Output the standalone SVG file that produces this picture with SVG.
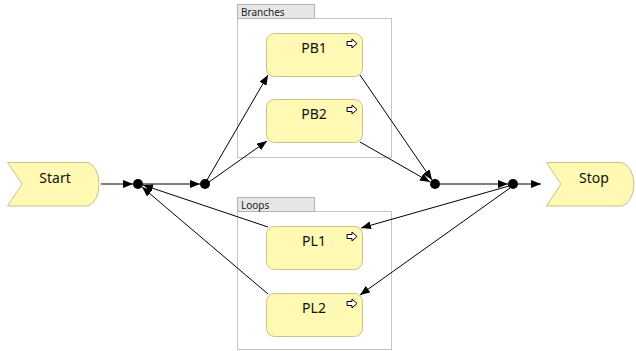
<svg xmlns="http://www.w3.org/2000/svg" width="636" height="351" viewBox="0 0 636 351">
<defs>
<style>
.node{fill:#fff9b3;stroke:#c9c28a;stroke-width:1}
.lbl{font-family:"Noto Sans","Open Sans",sans-serif;font-size:14px;fill:#111;text-anchor:middle}
.tab{fill:#e6e6e6;stroke:#b4b4b4;stroke-width:1}
.tablbl{font-family:"Noto Sans","Open Sans",sans-serif;font-size:10px;fill:#222}
.box{fill:none;stroke:#c4c4c4;stroke-width:1}
.conn{stroke:#000;stroke-width:1;fill:none;marker-end:url(#ah)}
.dot{fill:#000}
.icon{fill:#fff;stroke:#000;stroke-width:1}
</style>
<marker id="ah" viewBox="0 0 10 8" refX="10" refY="4" markerWidth="10" markerHeight="8" markerUnits="userSpaceOnUse" orient="auto">
<path d="M0,0 L10,4 L0,8 Z" fill="#000"/>
</marker>
<path id="ico" d="M0,-2 H5 V-4.5 L10,0 L5,4.5 V2 H0 Z"/>
</defs>

<g id="grp-branches">
<rect class="box" x="237.5" y="18.5" width="154" height="139"/>
<rect class="tab" x="237.5" y="4.5" width="77" height="14"/>
<text class="tablbl" x="241" y="16">Branches</text>
</g>
<g id="grp-loops">
<rect class="box" x="237.5" y="211.5" width="154" height="138"/>
<rect class="tab" x="237.5" y="197.5" width="77" height="14"/>
<text class="tablbl" x="241" y="209">Loops</text>
</g>

<g id="connectors">
<line class="conn" x1="101" y1="184" x2="133" y2="184"/>
<line class="conn" x1="143" y1="184" x2="200" y2="184"/>
<line class="conn" x1="207" y1="180" x2="268" y2="75"/>
<line class="conn" x1="209" y1="182" x2="267" y2="141"/>
<line class="conn" x1="360" y1="75" x2="432" y2="180"/>
<line class="conn" x1="360" y1="142" x2="430" y2="182"/>
<line class="conn" x1="440" y1="184" x2="508" y2="184"/>
<line class="conn" x1="518" y1="184" x2="541" y2="184"/>
<line class="conn" x1="509" y1="186" x2="361" y2="228"/>
<line class="conn" x1="510" y1="188" x2="360" y2="295"/>
<line class="conn" x1="268" y1="227" x2="143" y2="185"/>
<line class="conn" x1="268" y1="294" x2="142" y2="187"/>
</g>

<g id="start">
<path class="node" d="M7.5,162.5 H88 A13,22 0 0 1 88,206 H7.5 L22,184 Z"/>
<text class="lbl" x="55" y="183">Start</text>
</g>
<g id="stop">
<path class="node" d="M546.5,162.5 H622 A14,22 0 0 1 622,206 H546.5 L561,184 Z"/>
<text class="lbl" x="594" y="183">Stop</text>
</g>

<g id="j1"><circle class="dot" cx="138" cy="184" r="5"/></g>
<g id="j2"><circle class="dot" cx="205" cy="184" r="5"/></g>
<g id="j3"><circle class="dot" cx="435" cy="184" r="5"/></g>
<g id="j4"><circle class="dot" cx="513" cy="184" r="5"/></g>

<g id="pb1">
<rect class="node" x="266.5" y="33.5" width="96" height="43" rx="8"/>
<text class="lbl" x="314" y="53">PB1</text>
<use href="#ico" class="icon" x="347" y="43.5"/>
</g>
<g id="pb2">
<rect class="node" x="266.5" y="99.5" width="96" height="43" rx="8"/>
<text class="lbl" x="314" y="119">PB2</text>
<use href="#ico" class="icon" x="347" y="109.5"/>
</g>
<g id="pl1">
<rect class="node" x="266.5" y="226.5" width="96" height="43" rx="8"/>
<text class="lbl" x="314" y="246">PL1</text>
<use href="#ico" class="icon" x="347" y="236.5"/>
</g>
<g id="pl2">
<rect class="node" x="266.5" y="293.5" width="96" height="43" rx="8"/>
<text class="lbl" x="314" y="313">PL2</text>
<use href="#ico" class="icon" x="347" y="303.5"/>
</g>
</svg>
